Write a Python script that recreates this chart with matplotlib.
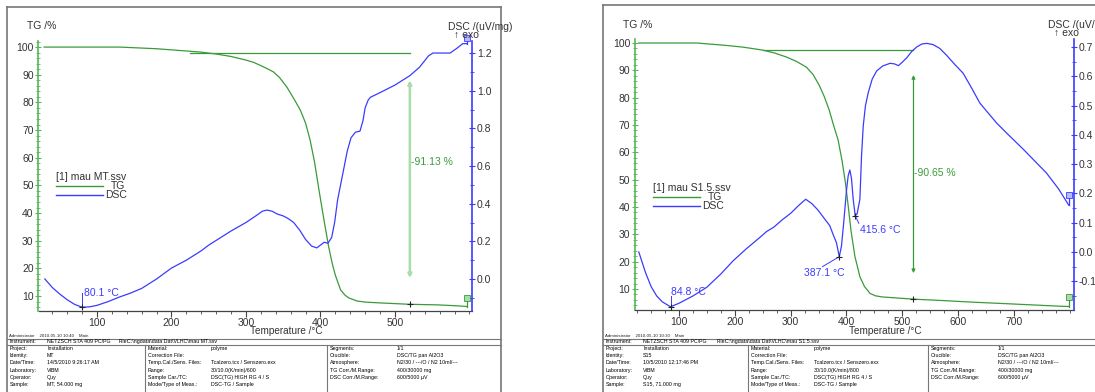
import matplotlib
matplotlib.use('Agg')
import numpy as np
import matplotlib.pyplot as plt
from matplotlib.lines import Line2D
from matplotlib.ticker import MultipleLocator, FormatStrFormatter

# ---------------- data : left panel (mau MT) ----------------
mt_tg_temp = [29, 80, 131, 180, 239, 260, 280, 300, 310, 320, 330, 337, 345, 355, 365,
              373, 380, 386, 392, 398, 405, 411, 416, 420, 427, 433, 438, 449, 460,
              480, 520, 557, 580, 597]
mt_tg = [100, 100, 100, 99.4, 98.2, 97.5, 96.6, 95.3, 94.5, 93.3, 92, 91, 89, 85.5, 81,
         77.2, 72.5, 66.5, 58.5, 48.3, 37, 27.8, 21.5, 17.5, 12.2, 10.3, 9.3, 8.2, 7.8,
         7.5, 7.0, 6.8, 6.5, 6.2]
mt_dsc_temp = [30, 40, 50, 60, 70, 80.1, 90, 100, 115, 130, 145, 160, 180, 200, 220,
               240, 250, 260, 280, 300, 315, 322, 328, 335, 342, 350, 357, 364, 372,
               380, 388, 395, 400, 405, 410, 415, 419, 423, 430, 436, 441, 447, 453,
               457, 460, 464, 467, 480, 500, 520, 533, 545, 551, 574, 583, 591, 597]
mt_dsc = [0.0, -0.045, -0.08, -0.11, -0.135, -0.15, -0.148, -0.14, -0.12, -0.096,
          -0.075, -0.05, 0.0, 0.058, 0.10, 0.15, 0.18, 0.205, 0.255, 0.30, 0.34, 0.36,
          0.366, 0.36, 0.345, 0.335, 0.32, 0.30, 0.26, 0.21, 0.175, 0.165, 0.18, 0.195,
          0.19, 0.22, 0.30, 0.42, 0.56, 0.68, 0.75, 0.78, 0.785, 0.84, 0.91, 0.95,
          0.965, 0.99, 1.03, 1.08, 1.125, 1.185, 1.2, 1.2, 1.225, 1.25, 1.25]

# ---------------- data : right panel (mau S1.5) ----------------
s15_tg_temp = [28, 80, 132, 155, 180, 214, 250, 270, 292, 310, 328, 340, 351, 360, 369,
               376, 385, 392, 398, 403, 408, 415, 424, 432, 442, 452, 464, 519, 570,
               625, 700, 783, 798]
s15_tg = [100, 100, 100, 99.6, 99.2, 98.5, 97.4, 96.4, 94.9, 93.3, 91.2, 88.5, 84.6,
          80.5, 75.5, 70.5, 64.5, 57, 49, 40.5, 31.5, 22, 14.5, 11, 8.4, 7.5, 7.1,
          6.3, 5.8, 5.2, 4.5, 3.7, 3.6]
s15_dsc_temp = [28, 40, 50, 60, 70, 84.8, 100, 125, 150, 175, 197, 220, 245, 257, 270,
                285, 300, 315, 327, 338, 349, 360, 370, 377, 382, 387.1, 391, 395, 400,
                403, 406, 409, 412, 415.6, 419, 424, 427, 430, 434, 439, 446, 454, 465,
                478, 486, 493, 500, 508, 517, 526, 535, 544, 555, 567, 579, 594, 609,
                624, 639, 669, 690, 717, 740, 758, 780, 798]
s15_dsc = [0.0, -0.07, -0.118, -0.15, -0.17, -0.187, -0.175, -0.15, -0.12, -0.075,
           -0.03, 0.01, 0.05, 0.07, 0.085, 0.11, 0.132, 0.16, 0.18, 0.165, 0.143, 0.115,
           0.09, 0.055, 0.032, -0.016, 0.02, 0.10, 0.21, 0.26, 0.28, 0.25, 0.18, 0.124,
           0.13, 0.18, 0.33, 0.43, 0.50, 0.544, 0.59, 0.618, 0.635, 0.644, 0.642, 0.636,
           0.648, 0.663, 0.685, 0.70, 0.71, 0.712, 0.708, 0.695, 0.672, 0.64, 0.61,
           0.56, 0.508, 0.44, 0.40, 0.35, 0.305, 0.27, 0.215, 0.16]

# step evaluation / peak labels
mt_step_temp, mt_step_level, mt_step_start = 520, 97.8, 225
mt_step_label = "-91.13 %"
mt_peaks = [(80.1, -0.15, "80.1 °C")]
s15_step_temp, s15_step_level, s15_step_start = 520, 97.4, 250
s15_step_label = "-90.65 %"
s15_peaks = [(84.8, -0.187, "84.8 °C"), (387.1, -0.016, "387.1 °C"), (415.6, 0.124, "415.6 °C")]

mt_table = {
    "file": r"C:\ngdata\data Dat\VLHC\mau MT.ssv",
    "admin": "Administrator    2010-05-10 10:40    Main",
    "left": [("Project:", "Installation"), ("Identity:", "MT"),
             ("Date/Time:", "14/5/2010 9:26:17 AM"), ("Laboratory:", "VIBM"),
             ("Operator:", "Quy"), ("Sample:", "MT, 54.000 mg")],
    "mid": [("Material:", "polyme"), ("Correction File:", ""),
            ("Temp.Cal./Sens. Files:", "Tcalzero.tcx / Senszero.exx"),
            ("Range:", "30/10.0(K/min)/600"), ("Sample Car./TC:", "DSC(TG) HIGH RG 4 / S"),
            ("Mode/Type of Meas.:", "DSC-TG / Sample")],
    "right": [("Segments:", "1/1"), ("Crucible:", "DSC/TG pan Al2O3"),
              ("Atmosphere:", "N2/30 / ---/O / N2 10ml/---"),
              ("TG Corr./M.Range:", "400/30000 mg"), ("DSC Corr./M.Range:", "600/5000 µV")],
}
s15_table = {
    "file": r"C:\ngdata\data Dat\VLHC\mau S1.5.ssv",
    "admin": "Administrator    2010-05-10 10:30    Main",
    "left": [("Project:", "Installation"), ("Identity:", "S15"),
             ("Date/Time:", "10/5/2010 12:17:46 PM"), ("Laboratory:", "VIBM"),
             ("Operator:", "Quy"), ("Sample:", "S15, 71.000 mg")],
    "mid": [("Material:", "polyme"), ("Correction File:", ""),
            ("Temp.Cal./Sens. Files:", "Tcalzero.tcx / Senszero.exx"),
            ("Range:", "30/10.0(K/min)/800"), ("Sample Car./TC:", "DSC(TG) HIGH RG 4 / S"),
            ("Mode/Type of Meas.:", "DSC-TG / Sample")],
    "right": [("Segments:", "1/1"), ("Crucible:", "DSC/TG pan Al2O3"),
              ("Atmosphere:", "N2/30 / ---/O / N2 10ml/---"),
              ("TG Corr./M.Range:", "400/30000 mg"), ("DSC Corr./M.Range:", "600/5000 µV")],
}

W, H = 1095, 392
plt.rcParams['font.family'] = ['Liberation Sans', 'DejaVu Sans']
fig = plt.figure(figsize=(W / 100, H / 100), dpi=100)

GREEN = '#3a9a3a'
SPINE_GREEN = '#55b855'
LIGHT_GREEN = '#a8dca8'
BLUE = '#3b3bff'
TXT = '#333333'
FRAME = '#777777'

# full-figure overlay in pixel coordinates for frames, legends, table
ov = fig.add_axes([0, 0, 1, 1], zorder=5)
ov.set_xlim(0, W)
ov.set_ylim(H, 0)
ov.axis('off')
ov.patch.set_visible(False)


def add_axes_px(x0, y0, x1, y1):
    return fig.add_axes([x0 / W, 1 - y1 / H, (x1 - x0) / W, (y1 - y0) / H])


def panel(cfg):
    x0, y0, x1, y1 = cfg['axes_px']
    ax = add_axes_px(x0, y0, x1, y1)
    ax2 = ax.twinx()
    for a in (ax, ax2):
        a.patch.set_visible(False)
        a.spines['top'].set_visible(False)
    ax.spines['right'].set_visible(False)
    ax2.spines['left'].set_visible(False)
    ax2.spines['bottom'].set_visible(False)
    ax.spines['left'].set_color(SPINE_GREEN)
    ax.spines['left'].set_linewidth(1.2)
    ax2.spines['right'].set_color(BLUE)
    ax2.spines['right'].set_linewidth(1.2)
    ax.spines['bottom'].set_color('#444444')
    ax.spines['bottom'].set_linewidth(0.9)

    ax.set_xlim(*cfg['xlim'])
    ax.set_ylim(*cfg['tglim'])
    ax2.set_ylim(*cfg['dsclim'])

    ax.set_xticks(cfg['xticks'])
    ax.xaxis.set_minor_locator(MultipleLocator(cfg['xminor']))
    ax.set_yticks(list(range(10, 101, 10)))
    ax.yaxis.set_minor_locator(MultipleLocator(2))
    ax2.set_yticks(cfg['dscticks'])
    ax2.yaxis.set_minor_locator(MultipleLocator(cfg['dscminor']))
    ax2.yaxis.set_major_formatter(FormatStrFormatter('%.1f'))

    ax.tick_params(axis='x', which='major', direction='out', length=4, width=0.8,
                   color='#444444', labelsize=7.5, labelcolor=TXT, pad=1)
    ax.tick_params(axis='x', which='minor', direction='out', length=2, width=0.6,
                   color='#444444')
    ax.tick_params(axis='y', which='major', direction='inout', length=5, width=0.8,
                   color=SPINE_GREEN, labelsize=7.5, labelcolor=TXT, pad=1)
    ax.tick_params(axis='y', which='minor', direction='inout', length=2.5, width=0.6,
                   color=SPINE_GREEN)
    ax2.tick_params(axis='y', which='major', direction='inout', length=5, width=0.8,
                    color=BLUE, labelsize=7.5, labelcolor=TXT, pad=1)
    ax2.tick_params(axis='y', which='minor', direction='inout', length=2.5, width=0.6,
                    color=BLUE)

    # step line + arrow
    ax.plot([cfg['step_start'], cfg['step_temp']], [cfg['step_level']] * 2,
            color=GREEN, lw=0.9, zorder=3)
    ax.annotate('', xy=(cfg['step_temp'], cfg['arrow_bot']),
                xytext=(cfg['step_temp'], cfg['arrow_top']),
                arrowprops=dict(arrowstyle='<|-|>', color=cfg['arrow_color'],
                                lw=cfg['arrow_lw'], mutation_scale=5,
                                shrinkA=0, shrinkB=0), zorder=2)
    ax.text(cfg['step_temp'] + 1.5, cfg['label_y'], cfg['step_label'], color=GREEN,
            fontsize=7.5, va='center', ha='left')

    # curves
    ax.plot(cfg['tg_x'], cfg['tg_y'], color=GREEN, lw=0.9, zorder=4)
    ax2.plot(cfg['dsc_x'], cfg['dsc_y'], color=BLUE, lw=0.9, zorder=4)

    # mass step "+" marker on TG
    tg_at = np.interp(cfg['step_temp'], cfg['tg_x'], cfg['tg_y'])
    ax.plot([cfg['step_temp']], [tg_at], marker='+', color='#222222', ms=5, mew=0.8,
            zorder=6)

    # curve end markers
    ex, ey = cfg['tg_x'][-1], cfg['tg_y'][-1]
    ax.plot([ex, ex], [ey, ey + cfg['tg_end_rise']], color=GREEN, lw=0.9, clip_on=False)
    ax.plot([ex], [ey + cfg['tg_end_rise']], marker='s', ms=4.5, mfc=LIGHT_GREEN,
            mec=GREEN, mew=0.6, clip_on=False, zorder=6)
    dx, dy = cfg['dsc_x'][-1], cfg['dsc_y'][-1]
    ax2.plot([dx, dx], [dy, dy + cfg['dsc_end_rise']], color=BLUE, lw=0.9, clip_on=False)
    ax2.plot([dx], [dy + cfg['dsc_end_rise']], marker='s', ms=4.5, mfc='#b8b8ff',
             mec=BLUE, mew=0.6, clip_on=False, zorder=6)

    # peak annotations
    for (px, py, lab), (tx, ty, ha, lx, ly) in zip(cfg['peaks'], cfg['peak_text']):
        ax2.plot([px], [py], marker='+', color='#222222', ms=5, mew=0.8, zorder=6)
        ax2.plot([px, lx], [py, ly], color=BLUE, lw=0.7, zorder=5)
        ax2.text(tx, ty, lab, color=BLUE, fontsize=7.5, ha=ha, va='center')

    # axis labels
    ov.text(cfg['tg_lab'][0], cfg['tg_lab'][1], 'TG /%', fontsize=7.5, color=TXT,
            ha='left', va='center')
    ov.text(cfg['dsc_lab'][0], cfg['dsc_lab'][1], 'DSC /(uV/mg)', fontsize=7.5,
            color=TXT, ha='left', va='center', clip_on=False)
    ov.text(cfg['dsc_lab'][0] + 6, cfg['dsc_lab'][1] + 8, '↑ exo', fontsize=7.5,
            color=TXT, ha='left', va='center')
    ov.text(cfg['xlab'][0], cfg['xlab'][1], 'Temperature /°C', fontsize=7.2, color=TXT,
            ha='center', va='center')

    # legend
    lx0, ly0 = cfg['legend']
    ov.text(lx0, ly0, cfg['legend_title'], fontsize=7.5, color=TXT, ha='left',
            va='center')
    ov.add_line(Line2D([lx0, lx0 + 47], [ly0 + 9, ly0 + 9], color=GREEN, lw=1.0))
    ov.text(lx0 + 55, ly0 + 9, 'TG', fontsize=7.5, color=TXT, ha='left', va='center')
    ov.add_line(Line2D([lx0, lx0 + 47], [ly0 + 18, ly0 + 18], color=BLUE, lw=1.0))
    ov.text(lx0 + 49, ly0 + 18, 'DSC', fontsize=7.5, color=TXT, ha='left', va='center')

    # outer frame
    fx0, fy0, fx1 = cfg['frame']
    ov.add_line(Line2D([fx0, fx1], [fy0, fy0], color=FRAME, lw=1.2))
    ov.add_line(Line2D([fx0, fx0], [fy0, H], color=FRAME, lw=1.2))
    ov.add_line(Line2D([fx1, fx1], [fy0, H], color=FRAME, lw=1.2))
    ov.add_line(Line2D([fx0, fx1], [339, 339], color=FRAME, lw=0.8))
    ov.add_line(Line2D([fx0, fx1], [344.5, 344.5], color=FRAME, lw=0.8))
    c1, c2 = cfg['cols']
    ov.add_line(Line2D([c1, c1], [344.5, H], color=FRAME, lw=0.8))
    ov.add_line(Line2D([c2, c2], [344.5, H], color=FRAME, lw=0.8))

    # table text
    tb = cfg['table']
    fs = 3.8
    ov.text(fx0 + 2, 336, tb['admin'], fontsize=3.2, color='#222222', ha='left',
            va='center')
    ov.text(fx0 + 3, 341.8, 'Instrument:', fontsize=fs, ha='left', va='center')
    ov.text(fx0 + 40, 341.8, 'NETZSCH STA 409 PC/PG', fontsize=fs, ha='left', va='center')
    ov.text(cfg['file_x'], 341.8, 'File:', fontsize=fs, ha='left', va='center')
    ov.text(cfg['file_x'] + 8, 341.8, tb['file'], fontsize=fs, ha='left', va='center')
    row_y = [348.5, 355.7, 362.9, 370.1, 377.3, 384.5]
    for colkey, cx, vx in (('left', fx0 + 3, fx0 + 40), ('mid', c1 + 3, c1 + 66),
                           ('right', c2 + 3, c2 + 70)):
        for (k, v), yy in zip(tb[colkey], row_y):
            ov.text(cx, yy, k, fontsize=fs, ha='left', va='center')
            ov.text(vx, yy, v, fontsize=fs, ha='left', va='center')
    return ax, ax2


left_cfg = dict(
    axes_px=(38.5, 41, 472, 311), xlim=(21.5, 603.4), tglim=(4.58, 102.2),
    dsclim=(-0.170, 1.264), xticks=[100, 200, 300, 400, 500], xminor=20,
    dscticks=[0.0, 0.2, 0.4, 0.6, 0.8, 1.0, 1.2], dscminor=0.1,
    tg_x=mt_tg_temp, tg_y=mt_tg, dsc_x=mt_dsc_temp, dsc_y=mt_dsc,
    step_temp=mt_step_temp, step_level=mt_step_level, step_start=mt_step_start,
    step_label=mt_step_label, arrow_top=88.0, arrow_bot=16.5, label_y=58.4,
    arrow_color=LIGHT_GREEN, arrow_lw=1.8, tg_end_rise=3.0, dsc_end_rise=0.03,
    peaks=mt_peaks, peak_text=[(82, -0.072, 'left', 80.1, -0.072)],
    tg_lab=(27, 26), dsc_lab=(448, 27), xlab=(286, 331.5),
    legend=(56, 177), legend_title='[1] mau MT.ssv',
    frame=(7, 7, 501), cols=(145, 327), table=mt_table, file_x=119,
)
right_cfg = dict(
    axes_px=(635, 39, 1074, 310), xlim=(21.2, 807.5), tglim=(2.32, 101.46),
    dsclim=(-0.198, 0.727), xticks=[100, 200, 300, 400, 500, 600, 700], xminor=25,
    dscticks=[-0.1, 0.0, 0.1, 0.2, 0.3, 0.4, 0.5, 0.6, 0.7], dscminor=0.05,
    tg_x=s15_tg_temp, tg_y=s15_tg, dsc_x=s15_dsc_temp, dsc_y=s15_dsc,
    step_temp=s15_step_temp, step_level=s15_step_level, step_start=s15_step_start,
    step_label=s15_step_label, arrow_top=88.3, arrow_bot=15.8, label_y=52.4,
    arrow_color=GREEN, arrow_lw=0.9, tg_end_rise=3.3, dsc_end_rise=0.035,
    peaks=s15_peaks,
    peak_text=[(85, -0.135, 'left', 84.8, -0.15),
               (360, -0.071, 'center', 357, -0.05),
               (424, 0.075, 'left', 422, 0.098)],
    tg_lab=(623, 25), dsc_lab=(1048, 25), xlab=(885, 331),
    legend=(653, 188), legend_title='[1] mau S1.5.ssv',
    frame=(603, 5, 1110), cols=(748, 928), table=s15_table, file_x=717,
)

panel(left_cfg)
panel(right_cfg)

fig.savefig('out.png', dpi=100)
